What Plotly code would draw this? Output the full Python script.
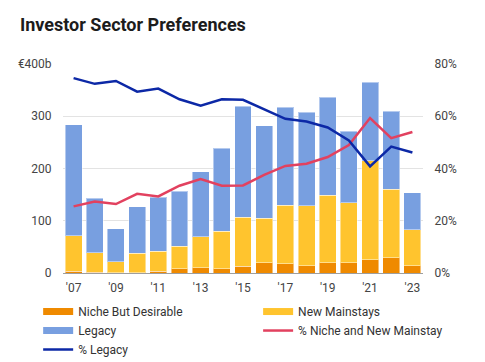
import plotly.graph_objects as go

years = ["'07","'08","'09","'10","'11","'12","'13","'14","'15","'16","'17","'18","'19","'20","'21","'22","'23"]
# segment values (EUR bn)
niche = [3, 1, 0.5, 0.5, 3, 8, 10, 8, 13, 20, 18, 14, 20, 20, 25, 29, 14]
new_mainstays = [68, 38, 21, 37.5, 39, 43.6, 59.4, 71.6, 94, 85, 112, 114.7, 129, 114, 190, 131, 69]
legacy = [212.5, 103.6, 63.1, 89, 102.6, 104.4, 124.3, 159.4, 212, 177, 187, 179.3, 187.5, 137.5, 150, 149.7, 71]
pct_niche_new = [25.5, 27.4, 26.4, 30.3, 29.3, 33.4, 36.0, 33.4, 33.5, 37.6, 41.0, 41.8, 44.4, 49.0, 59.3, 51.6, 54.0]
pct_legacy = [74.6, 72.4, 73.5, 69.4, 70.6, 66.5, 64.0, 66.5, 66.3, 62.5, 59.0, 58.0, 55.7, 50.7, 40.8, 48.4, 46.1]
x_ticks = ["'07","'09","'11","'13","'15","'17","'19","'21","'23"]
left_vals = [0, 100, 200, 300, 400]
left_text = ["0", "100", "200", "300", "€400b"]
right_vals = [0, 20, 40, 60, 80]
right_text = ["0%", "20%", "40%", "60%", "80%"]

FONT = "Roboto, Arial, sans-serif"
C_NICHE, C_NEW, C_LEG = "#EF8A00", "#FFC42E", "#789FE0"
C_PNEW, C_PLEG = "#E2415F", "#0C28A6"
edge = dict(color="rgba(255,255,255,0.45)", width=1)

fig = go.Figure()
fig.add_trace(go.Bar(x=years, y=niche, name="Niche But Desirable", legendgroup="n", showlegend=False,
                     marker=dict(color=C_NICHE, line=edge)))
fig.add_trace(go.Bar(x=years, y=new_mainstays, name="New Mainstays", legendgroup="m", showlegend=False,
                     marker=dict(color=C_NEW, line=edge)))
fig.add_trace(go.Bar(x=years, y=legacy, name="Legacy", legendgroup="l", showlegend=False,
                     marker=dict(color=C_LEG, line=edge)))
fig.add_trace(go.Scatter(x=years, y=pct_niche_new, name="% Niche and New Mainstay", yaxis="y2",
                         mode="lines", line=dict(color=C_PNEW, width=2.5), showlegend=False, legendgroup="p"))
fig.add_trace(go.Scatter(x=years, y=pct_legacy, name="% Legacy", yaxis="y2",
                         mode="lines", line=dict(color=C_PLEG, width=2.5), showlegend=False, legendgroup="q"))

# legend entries (wide swatches like the original), split into two columns
legend_entries = [("Niche But Desirable", C_NICHE, 7, "n", "legend"),
                  ("New Mainstays", C_NEW, 7, "m", "legend2"),
                  ("Legacy", C_LEG, 7, "l", "legend"),
                  ("% Niche and New Mainstay", C_PNEW, 2.5, "p", "legend2"),
                  ("% Legacy", C_PLEG, 2.5, "q", "legend")]
for name, col, w, grp, lg in legend_entries:
    fig.add_trace(go.Scatter(x=[None], y=[None], mode="lines", name=name, legendgroup=grp, legend=lg,
                             line=dict(color=col, width=w), hoverinfo="skip"))

leg_common = dict(orientation="v", xanchor="left", yanchor="top", y=-0.115, traceorder="normal",
                  font=dict(size=12, color="#333333"), bgcolor="rgba(0,0,0,0)", tracegroupgap=0)

fig.update_layout(
    width=477, height=354,
    barmode="stack", bargap=0.2,
    plot_bgcolor="white", paper_bgcolor="white",
    font=dict(family=FONT, size=12, color="#333333"),
    margin=dict(l=55, r=62, t=56, b=89, autoexpand=False),
    title=dict(text="<b>Investor Sector Preferences</b>", x=0.025, xref="container", xanchor="left",
               y=1 - 17 / 354, yref="container", yanchor="middle",
               font=dict(family=FONT, size=18, color="#1c1c1c")),
    xaxis=dict(type="category", tickvals=x_ticks, ticktext=x_ticks, showgrid=False,
               showline=True, linecolor="#9e9e9e", linewidth=1, ticks="outside", ticklen=4,
               tickcolor="rgba(0,0,0,0)", tickfont=dict(size=12, color="#444444")),
    yaxis=dict(range=[0, 400], tickvals=left_vals, ticktext=left_text, showgrid=True,
               gridcolor="#e3e3e3", zeroline=False, ticks="outside", ticklen=8,
               tickcolor="rgba(0,0,0,0)", tickfont=dict(size=12, color="#444444")),
    yaxis2=dict(range=[0, 80], tickvals=right_vals, ticktext=right_text, overlaying="y", side="right",
                showgrid=False, zeroline=False, ticks="outside", ticklen=8,
                tickcolor="rgba(0,0,0,0)", tickfont=dict(size=12, color="#444444")),
    legend=dict(x=-0.069, **leg_common),
    legend2=dict(x=0.542, **leg_common),
    showlegend=True,
)

fig.write_html("out.html")
